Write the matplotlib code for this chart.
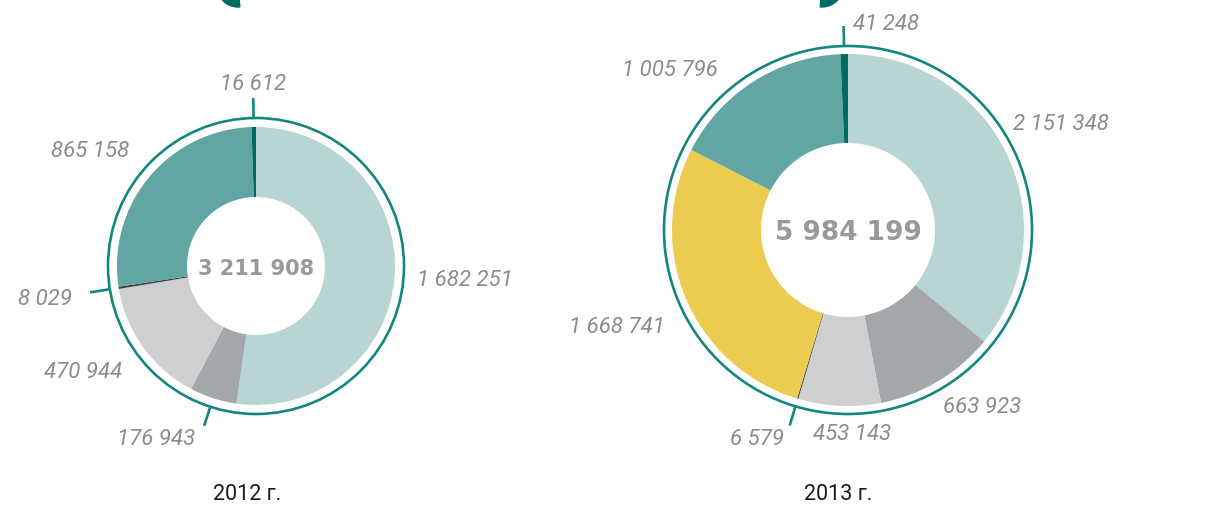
#!/usr/bin/env python3
# -*- coding: utf-8 -*-
import numpy as np
import matplotlib
matplotlib.use("Agg")
import matplotlib.pyplot as plt
from matplotlib.patches import Circle, Wedge

W, H = 1232, 509

# data, clockwise from 12 o'clock
vals_2012 = [1682251, 176943, 470944, 8029, 865158, 16612]
vals_2013 = [2151348, 663923, 453143, 6579, 1668741, 1005796, 41248]
total_2012 = "3 211 908"
total_2013 = "5 984 199"
year_2012 = "2012 г."
year_2013 = "2013 г."

cols_2012 = ["#b8d5d3", "#a3a7a9", "#cdcfd1", "#3b4043", "#62a6a3", "#006b63"]
cols_2013 = ["#b8d5d3", "#a3a7a9", "#cdcfd1", "#3b4043", "#ebcc50", "#62a6a3", "#006b63"]

ring_col = "#12877f"
lab_col = "#8a8c8e"

def fmt(v):
    return "{:,}".format(v).replace(",", " ")

# layout: centre (pixel), outer radius, hole radius, ring radius
# per-label: (offset dx, dy in px from ring point / tick end, ha, tick?)
lay_2012 = dict(c=(256, 266), r=139, r_in=69, r_ring=148,
                labs=[(13, 4, "left", False), (-9, 14, "right", True),
                      (-14, 20, "right", False), (-18, 7, "right", True),
                      (-13, -20, "right", False), (0, -14, "center", True)],
                tot_size=15, year_x=247)
lay_2013 = dict(c=(848, 230), r=176, r_in=87, r_ring=184,
                labs=[(-1, -27, "left", False), (1, 19, "left", False),
                      (13, 21, "center", False), (-6, 14, "right", True),
                      (-14, 25, "right", False), (-31, -5, "right", False),
                      (9, -2, "left", True)],
                tot_size=19, year_x=838)

fig = plt.figure(figsize=(W / 100, H / 100), dpi=100)
ax = fig.add_axes([0, 0, 1, 1])

def py(y):
    return H - y

def donut(vals, cols, L, total, year):
    cx, cy = L["c"]
    ax.pie(vals, colors=cols, startangle=90, counterclock=False,
           radius=L["r"], center=(cx, py(cy)),
           wedgeprops=dict(width=L["r"] - L["r_in"], edgecolor="none", linewidth=0))
    ax.add_patch(Circle((cx, py(cy)), L["r_ring"], facecolor="none",
                        edgecolor=ring_col, lw=1.9))
    tot = float(sum(vals))
    cum = np.cumsum([0] + list(vals))
    for i, v in enumerate(vals):
        mid = 90 - (cum[i] + v / 2.0) / tot * 360
        a = np.deg2rad(mid)
        dx, dy, ha, tick = L["labs"][i]
        rr = L["r_ring"]
        x0, y0 = cx + rr * np.cos(a), cy - rr * np.sin(a)
        if tick:
            x1, y1 = cx + (rr + 20) * np.cos(a), cy - (rr + 20) * np.sin(a)
            ax.plot([x0, x1], [py(y0), py(y1)], color=ring_col, lw=1.9,
                    solid_capstyle="butt")
            x0, y0 = x1, y1
        ax.text(x0 + dx, py(y0 + dy), fmt(v), ha=ha, va="center",
                fontsize=16, style="italic", color=lab_col, family="Roboto")
    ax.text(cx, py(cy + 3), total, ha="center", va="center",
            fontsize=L["tot_size"], fontweight="bold", color="#97999b",
            family="DejaVu Sans")
    ax.text(L["year_x"], py(495), year, ha="center", va="center",
            fontsize=15.5, color="#1a1a1a", family="Roboto")

donut(vals_2012, cols_2012, lay_2012, total_2012, year_2012)
donut(vals_2013, cols_2013, lay_2013, total_2013, year_2013)

# cropped shapes at the top edge
ax.add_patch(Wedge((238, py(-14)), 21, 200, 275, width=8, color="#006b63"))
ax.add_patch(Wedge((822, py(-14)), 21, 265, 340, width=8, color="#006b63"))

ax.set_xlim(0, W)
ax.set_ylim(0, H)
ax.set_aspect("equal")
ax.axis("off")

fig.savefig("out.png", dpi=100)
